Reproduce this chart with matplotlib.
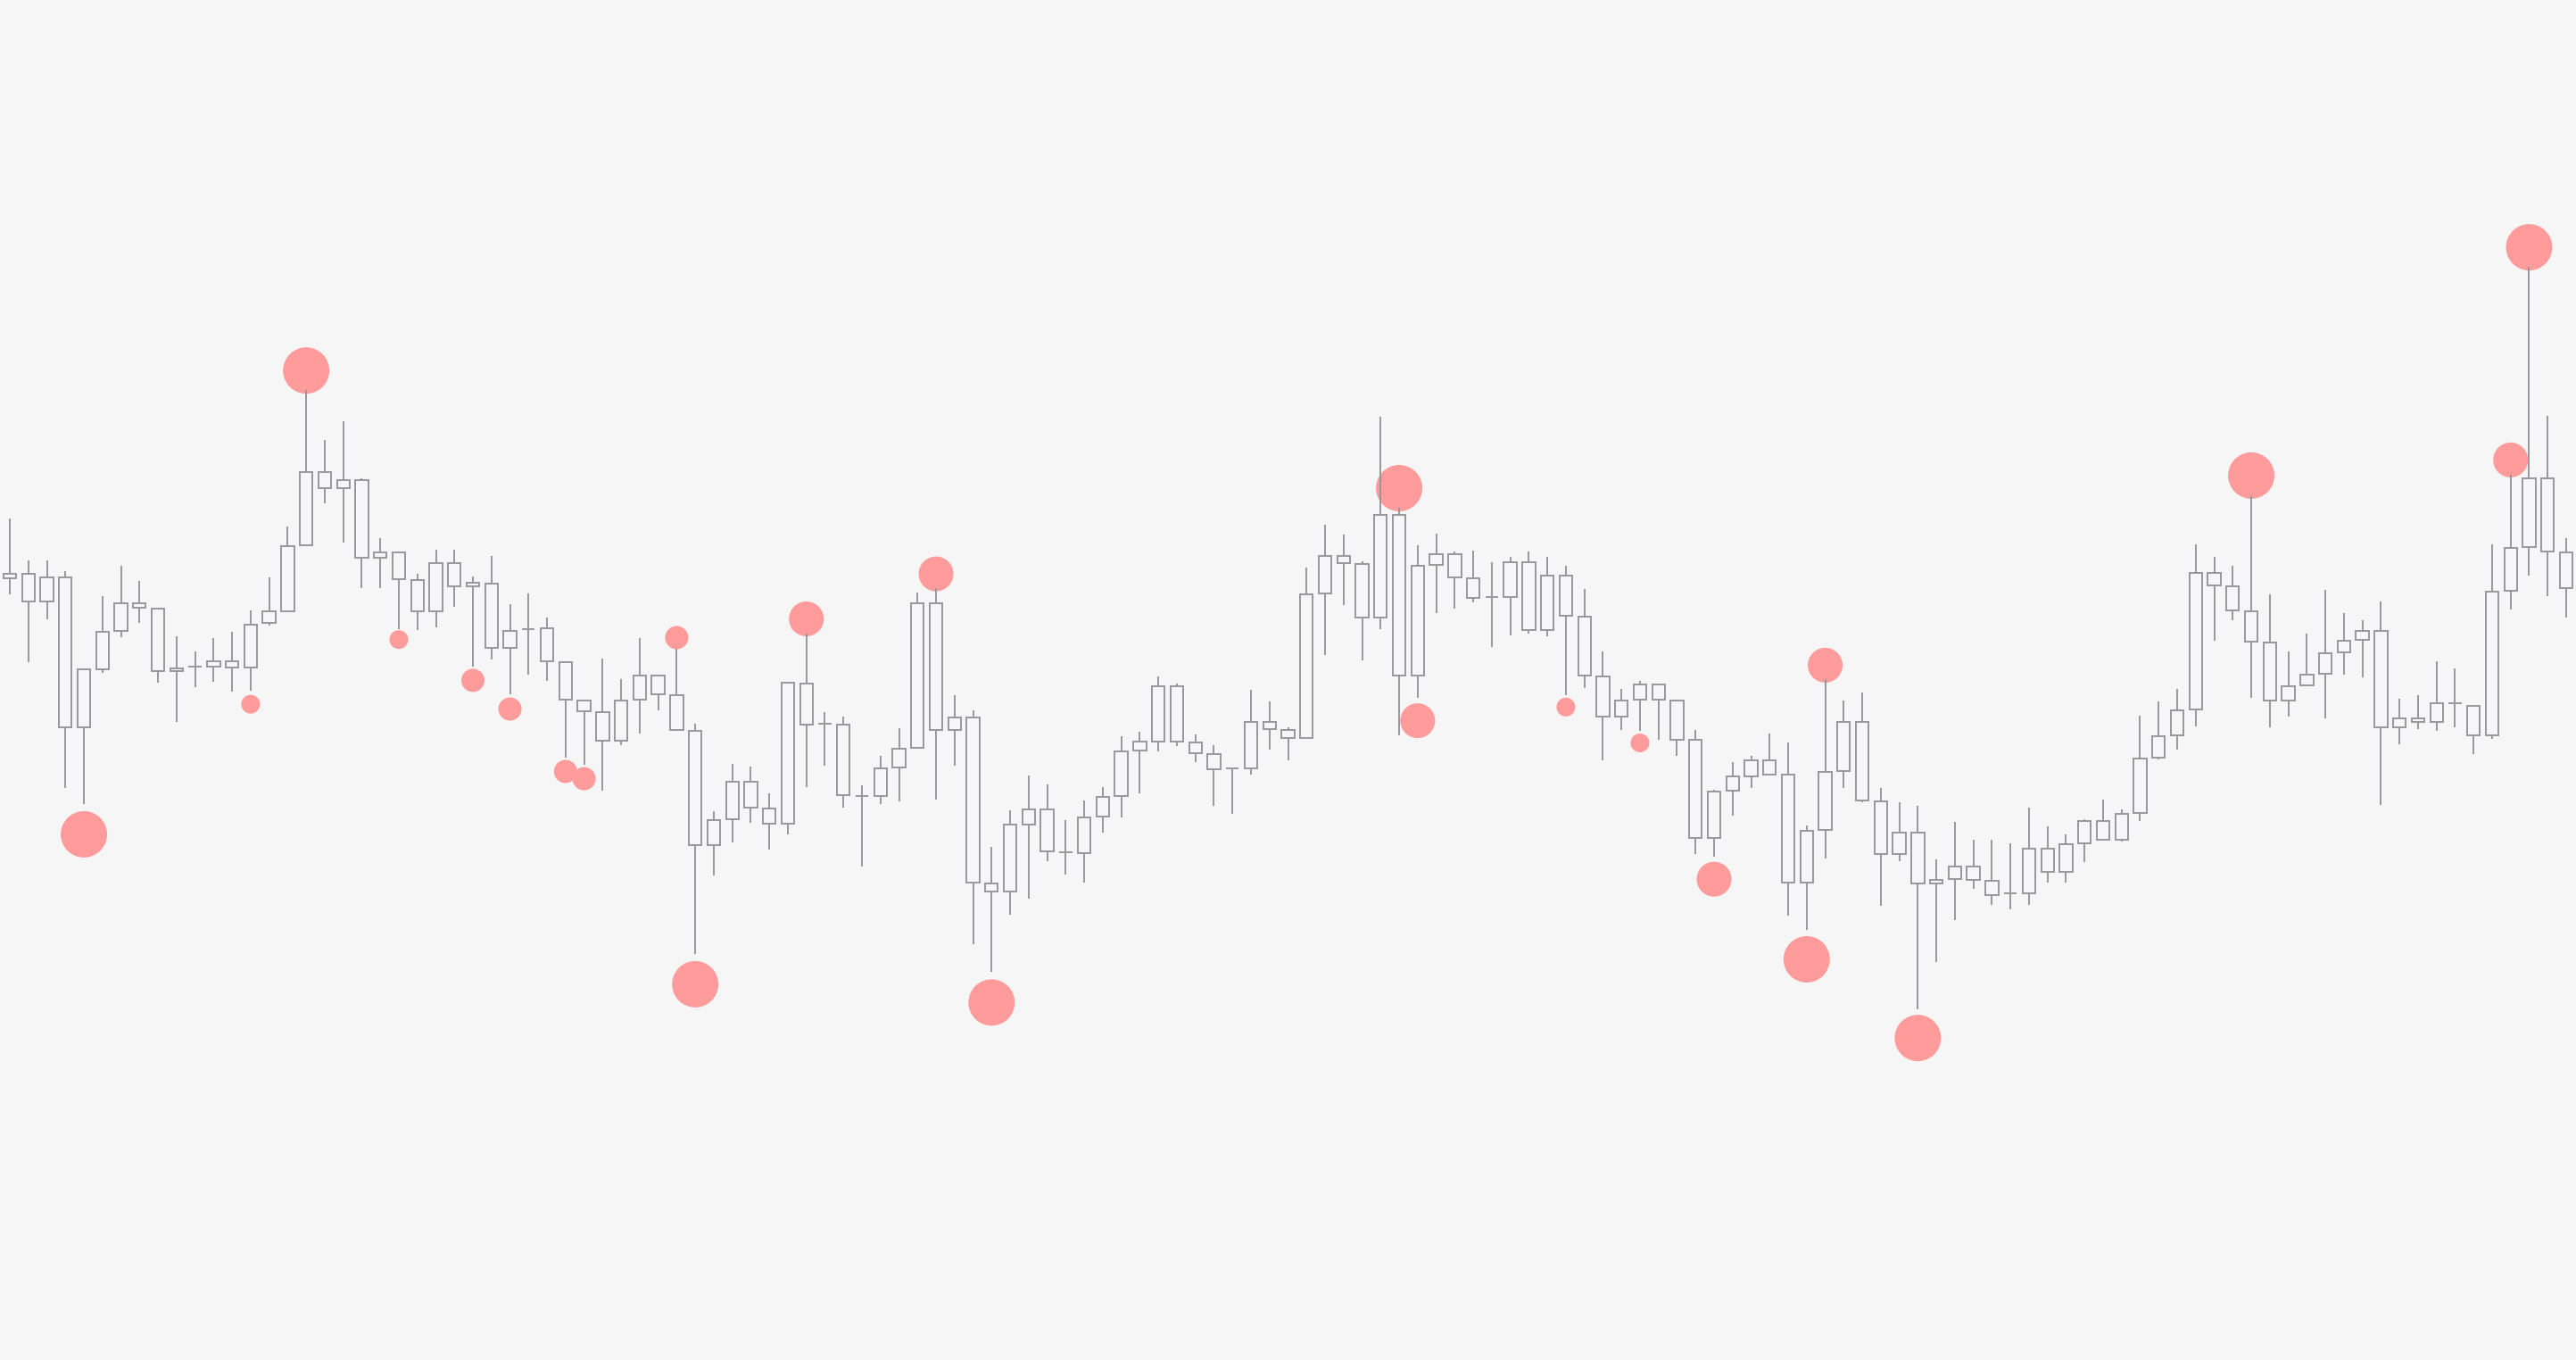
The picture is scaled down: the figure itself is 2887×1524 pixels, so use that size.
import numpy as np
import matplotlib
matplotlib.use('Agg')
import matplotlib.pyplot as plt

# candle data (arbitrary price units)
high = [943.1, 896.0, 896.0, 883.8, 775.5, 855.9, 889.9, 873.1, 842.1, 811.1,
        793.9, 809.2, 816.1, 839.8, 876.9, 933.9, 1086.6, 1031.1, 1052.2, 987.9,
        920.9, 905.2, 880.7, 907.8, 908.2, 877.6, 900.9, 846.6, 858.8, 831.7,
        782.3, 739.0, 785.7, 763.5, 809.5, 768.1, 796.8, 712.6, 615.5, 667.9,
        664.8, 635.0, 759.7, 814.4, 726.0, 721.1, 643.9, 676.9, 707.9, 859.8,
        864.8, 745.0, 727.8, 574.7, 616.1, 655.1, 645.1, 605.0, 627.2, 642.5,
        699.1, 703.7, 766.1, 758.4, 700.6, 689.5, 662.7, 750.8, 737.8, 708.7,
        887.8, 936.0, 924.9, 895.1, 1056.6, 954.8, 912.7, 925.7, 906.2, 906.6,
        893.9, 900.4, 905.8, 899.7, 889.7, 864.1, 794.0, 752.0, 760.8, 757.3,
        739.3, 706.0, 639.1, 670.1, 677.0, 702.1, 692.1, 598.8, 763.1, 739.0,
        747.6, 641.5, 625.0, 621.5, 560.9, 602.6, 583.0, 583.0, 579.5, 619.1,
        597.8, 588.8, 606.4, 627.7, 616.7, 721.6, 737.6, 751.9, 913.9, 900.1,
        889.8, 968.4, 857.7, 793.8, 813.9, 863.0, 837.1, 829.5, 850.1, 740.7,
        745.2, 783.1, 775.1, 733.1, 913.9, 991.6, 1225.1, 1057.7, 921.0]
low = [857.8, 782.4, 830.2, 641.2, 622.8, 769.8, 809.9, 826.4, 759.4, 715.4,
       754.5, 760.2, 748.7, 749.9, 822.6, 839.0, 913.3, 960.3, 915.6, 865.4,
       865.4, 819.5, 817.6, 820.8, 844.3, 776.9, 785.4, 746.3, 768.5, 761.2,
       675.5, 667.1, 638.4, 688.9, 702.3, 728.3, 706.1, 455.5, 543.5, 579.9,
       601.7, 572.2, 589.4, 641.9, 665.6, 619.3, 552.6, 622.6, 626.4, 684.9,
       628.3, 666.2, 466.5, 435.1, 499.4, 517.3, 559.4, 544.1, 534.6, 591.2,
       608.4, 635.2, 681.9, 688.4, 670.4, 621.4, 612.2, 655.9, 683.8, 672.3,
       697.2, 790.2, 846.5, 784.5, 818.9, 700.3, 742.4, 837.3, 841.9, 849.5,
       799.0, 812.4, 814.3, 811.3, 745.5, 753.5, 672.4, 706.0, 704.9, 695.3,
       677.3, 567.5, 564.4, 610.5, 641.5, 655.3, 497.9, 481.7, 562.3, 641.5,
       625.3, 509.3, 558.8, 393.5, 446.2, 493.4, 527.8, 509.9, 505.5, 509.9,
       534.7, 534.7, 558.2, 583.0, 581.2, 603.6, 673.3, 683.6, 710.3, 806.3,
       828.6, 741.6, 709.4, 721.5, 755.9, 719.3, 768.4, 765.2, 622.4, 690.2,
       707.2, 705.0, 709.4, 679.1, 695.6, 841.1, 879.1, 856.3, 832.2]
opens = [876.1, 850.1, 850.1, 709.3, 709.3, 774.0, 817.2, 843.2, 772.4, 772.4,
         777.4, 777.4, 776.3, 776.3, 825.6, 839.0, 913.3, 977.2, 977.2, 899.1,
         899.1, 875.0, 839.0, 839.0, 867.2, 867.2, 798.0, 798.0, 819.4, 783.1,
         740.2, 726.8, 694.3, 694.3, 740.2, 746.3, 706.1, 577.2, 577.2, 606.3,
         619.3, 601.3, 601.3, 711.9, 713.4, 632.7, 632.4, 632.1, 664.3, 685.7,
         706.4, 706.4, 535.3, 525.0, 525.0, 600.0, 570.1, 569.0, 568.2, 608.8,
         632.1, 683.0, 693.4, 693.0, 680.0, 662.0, 662.7, 663.1, 707.1, 697.2,
         697.2, 859.1, 893.2, 831.9, 831.9, 767.3, 767.3, 891.2, 877.1, 854.1,
         855.3, 855.3, 818.2, 818.2, 834.2, 766.9, 721.4, 721.4, 740.1, 740.1,
         695.3, 584.7, 584.8, 638.1, 654.2, 656.3, 535.1, 535.1, 594.0, 660.1,
         627.0, 567.5, 567.5, 534.1, 534.1, 539.2, 538.5, 521.3, 523.4, 523.0,
         547.1, 547.1, 578.8, 583.0, 583.0, 613.2, 675.1, 700.5, 729.1, 867.9,
         840.2, 805.0, 739.4, 739.4, 755.9, 769.3, 792.9, 807.2, 709.0, 709.0,
         714.8, 714.8, 735.8, 700.5, 700.5, 862.1, 911.2, 905.9, 864.8]
closes = [880.7, 880.7, 877.3, 877.3, 773.6, 816.1, 848.2, 848.2, 842.1, 775.5,
          777.4, 783.2, 783.2, 824.1, 838.6, 912.5, 995.5, 995.5, 985.6, 985.6,
          905.2, 905.2, 874.2, 893.4, 893.3, 870.7, 870.3, 817.1, 819.4, 820.2,
          782.3, 739.0, 726.4, 739.0, 767.4, 767.4, 745.2, 705.4, 605.1, 648.4,
          648.4, 618.1, 758.6, 758.2, 713.4, 712.3, 632.4, 663.1, 685.3, 848.3,
          848.3, 720.1, 720.1, 534.2, 599.6, 617.2, 617.2, 569.0, 608.4, 631.4,
          682.3, 693.0, 755.4, 755.4, 691.8, 679.2, 662.7, 715.2, 715.2, 706.0,
          858.3, 901.2, 901.2, 892.4, 947.1, 947.1, 890.1, 903.1, 903.1, 875.9,
          855.3, 894.3, 894.3, 879.0, 879.0, 833.1, 766.1, 739.3, 757.3, 757.3,
          739.3, 694.6, 637.3, 653.6, 672.5, 672.5, 656.3, 593.3, 659.4, 715.2,
          715.2, 626.3, 591.2, 591.2, 538.5, 553.0, 553.0, 537.1, 523.4, 573.0,
          573.0, 578.1, 604.0, 604.0, 611.9, 674.3, 699.3, 728.2, 882.2, 882.2,
          867.0, 838.9, 804.1, 755.0, 768.4, 792.0, 806.3, 817.0, 817.0, 719.3,
          719.3, 736.2, 735.8, 733.1, 861.2, 910.3, 988.5, 988.5, 905.0]

# highlighted swing points: candle index, level, strength (1..4)
pivot_idx = [4, 13, 16, 21, 25, 27, 30, 31, 36, 37, 43, 50,
             53, 75, 76, 84, 88, 92, 97, 98, 103, 121, 135, 136]
pivot_val = [589.1, 734.9, 1108.8, 807.3, 761.6, 729.5, 659.5, 651.4, 809.5, 421.1, 830.5, 880.9,
             400.6, 977.0, 716.4, 731.7, 691.5, 538.8, 449.0, 778.6, 360.8, 991.1, 1008.6, 1246.9]
pivot_strength = [4, 1, 4, 1, 2, 2, 2, 2, 2, 4, 3, 3,
                  4, 4, 3, 1, 1, 3, 4, 3, 4, 4, 3, 4]

bg = '#f6f6f6'
grey = '#97979c'
sizes = {1: 229, 2: 350, 3: 790, 4: 1400}

x = np.arange(len(high))
o = np.array(opens)
c = np.array(closes)

fig = plt.figure(figsize=(28.87, 15.24), dpi=100, facecolor=bg)
ax = fig.add_axes([0, 0, 1, 1])
ax.set_facecolor(bg)

ax.scatter(pivot_idx, pivot_val, s=[sizes[k] for k in pivot_strength],
           color='#ff9b9b', linewidths=0, zorder=1)
ax.vlines(x, low, high, color=grey, linewidth=1.4, zorder=2)
ax.bar(x, c - o, bottom=o, width=0.69, facecolor=bg, edgecolor=grey,
       linewidth=1.4, zorder=3)

ax.set_xlim(-0.53, 138.53)
ax.set_ylim(0, 1524)
ax.axis('off')

fig.savefig('out.png', dpi=100, facecolor=bg)
